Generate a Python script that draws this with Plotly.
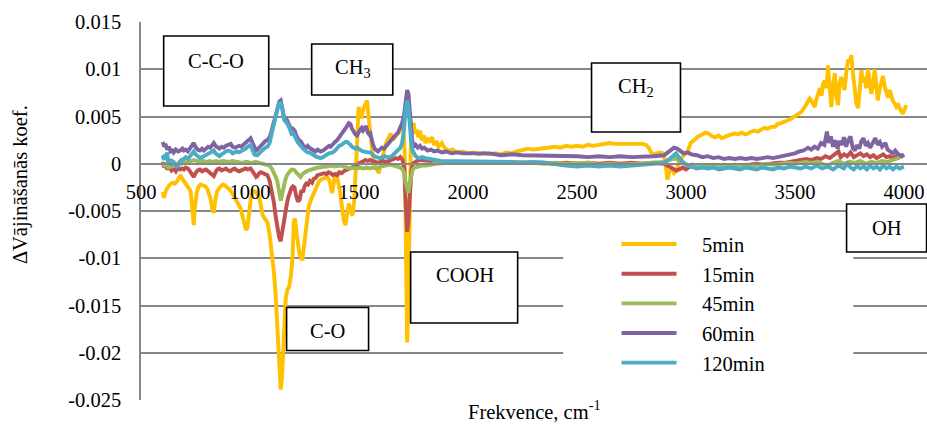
import plotly.graph_objects as go

# Difference absorbance spectra (values in units of 1e-4), wavenumber in cm-1
wn_5 = [600, 605, 615, 625, 632, 645, 655, 667, 675, 681, 690, 700, 712, 720, 728, 735, 742, 748, 755, 765,
        773, 785, 795, 805, 812, 820, 827, 834, 840, 848, 857, 865, 875, 885, 896, 905, 915, 926, 935, 945,
        957, 965, 973, 982, 988, 995, 1003, 1010, 1018, 1028, 1041, 1050, 1057, 1065, 1073, 1080, 1090, 1097, 1103, 1110,
        1118, 1126, 1134, 1141, 1147, 1153, 1158, 1164, 1172, 1180, 1188, 1195, 1201, 1206, 1212, 1220, 1228, 1240, 1248, 1255,
        1262, 1270, 1280, 1293, 1305, 1316, 1324, 1335, 1345, 1355, 1365, 1372, 1377, 1383, 1390, 1397, 1405, 1412, 1418, 1422,
        1430, 1438, 1446, 1453, 1462, 1470, 1478, 1486, 1492, 1498, 1505, 1512, 1520, 1528, 1537, 1543, 1550, 1558, 1567, 1575,
        1582, 1591, 1598, 1606, 1615, 1625, 1635, 1645, 1655, 1665, 1675, 1685, 1695, 1703, 1710, 1716, 1721, 1726, 1731, 1738,
        1745, 1751, 1758, 1765, 1772, 1780, 1788, 1797, 1805, 1815, 1825, 1835, 1845, 1855, 1865, 1880, 1895, 1910, 1930, 1950,
        1975, 2000, 2025, 2050, 2075, 2100, 2125, 2150, 2175, 2200, 2225, 2250, 2275, 2300, 2325, 2350, 2375, 2400, 2425, 2450,
        2475, 2500, 2525, 2550, 2575, 2600, 2625, 2650, 2675, 2700, 2725, 2750, 2775, 2800, 2815, 2830, 2840, 2852, 2865, 2880,
        2895, 2905, 2915, 2925, 2935, 2945, 2955, 2965, 2975, 2990, 3008, 3022, 3040, 3057, 3075, 3090, 3103, 3120, 3135, 3150,
        3164, 3180, 3195, 3210, 3225, 3240, 3255, 3270, 3286, 3300, 3315, 3330, 3347, 3360, 3375, 3390, 3408, 3420, 3435, 3450,
        3469, 3485, 3500, 3515, 3530, 3545, 3555, 3568, 3580, 3591, 3598, 3606, 3615, 3622, 3630, 3637, 3645, 3652, 3660, 3667,
        3675, 3683, 3690, 3698, 3705, 3713, 3720, 3728, 3735, 3744, 3752, 3759, 3766, 3774, 3782, 3790, 3798, 3805, 3812, 3820,
        3827, 3835, 3843, 3850, 3858, 3866, 3873, 3880, 3888, 3896, 3904, 3912, 3920, 3927, 3935, 3943, 3950, 3958, 3966, 3974,
        3981, 3989, 3996, 4003, 4011]
ab_5 = [-30, -36, -28, -24, -22, -20, -21, -18, -14, -12, -16, -19, -22, -26, -30, -45, -65, -45, -31, -24,
        -22, -23, -24, -27, -31, -38, -48, -52, -40, -30, -26, -24, -22, -23, -25, -27, -30, -34, -38, -42,
        -47, -55, -62, -70, -68, -50, -38, -32, -29, -30, -34, -44, -54, -57, -59, -62, -75, -88, -98, -115,
        -140, -175, -210, -239, -225, -193, -165, -142, -133, -130, -118, -100, -62, -58, -70, -85, -97, -102, -86, -70,
        -56, -45, -38, -31, -24, -19, -17, -16, -15, -14, -18, -25, -31, -22, -12, -11, -18, -28, -38, -44,
        -60, -65, -48, -42, -50, -55, -40, -10, 25, 60, 55, 48, 58, 62, 67, 52, 38, 18, 2, -2,
        -6, -10, -3, 6, 14, 22, 26, 32, 25, 28, 30, 34, 38, 42, 10, -90, -189, -150, -40, 20,
        40, 43, 32, 36, 28, 35, 25, 30, 22, 26, 24, 28, 20, 24, 18, 22, 16, 14, 15, 12,
        13, 11, 12, 10, 11, 10, 11, 10, 12, 11, 13, 15, 16, 15, 16, 16, 17, 18, 17, 19,
        18, 19, 18, 20, 19, 20, 21, 22, 21, 21, 22, 21, 22, 21, 20, 17, 12, 10, 11, 12,
        11, 3, -17, -8, -5, -10, -8, -2, 5, 9, 13, 22, 26, 29, 31, 33, 32, 29, 28, 30,
        27, 29, 30, 31, 32, 31, 33, 31, 32, 34, 35, 34, 36, 38, 37, 39, 39, 42, 43, 44,
        46, 48, 50, 52, 55, 60, 64, 69, 65, 60, 68, 74, 80, 72, 85, 88, 80, 104, 75, 60,
        82, 96, 72, 62, 85, 92, 84, 78, 95, 110, 108, 115, 96, 78, 64, 59, 80, 99, 86, 92,
        80, 100, 88, 74, 82, 100, 85, 67, 78, 86, 93, 82, 74, 70, 78, 70, 66, 64, 60, 62,
        58, 55, 53, 58, 62]

wn_15 = [600, 606, 612, 620, 630, 640, 650, 660, 670, 680, 690, 697, 705, 715, 725, 735, 742, 750, 760, 770,
         780, 788, 798, 808, 818, 827, 834, 842, 850, 860, 870, 880, 890, 900, 910, 920, 930, 940, 950, 960,
         970, 980, 990, 1003, 1012, 1020, 1028, 1034, 1042, 1050, 1060, 1070, 1080, 1090, 1096, 1103, 1109, 1118, 1126, 1134,
         1141, 1148, 1155, 1162, 1168, 1175, 1182, 1190, 1197, 1204, 1212, 1220, 1228, 1236, 1244, 1250, 1258, 1266, 1275, 1285,
         1292, 1301, 1310, 1320, 1330, 1340, 1350, 1360, 1370, 1380, 1390, 1400, 1410, 1420, 1430, 1440, 1446, 1455, 1465, 1476,
         1485, 1495, 1505, 1515, 1522, 1530, 1540, 1550, 1560, 1570, 1580, 1590, 1600, 1610, 1620, 1630, 1640, 1650, 1660, 1670,
         1680, 1690, 1700, 1708, 1714, 1721, 1727, 1733, 1740, 1747, 1755, 1765, 1780, 1800, 1820, 1850, 1900, 1950, 2000, 2050,
         2100, 2150, 2200, 2250, 2300, 2350, 2400, 2450, 2500, 2550, 2600, 2650, 2700, 2750, 2800, 2850, 2900, 2925, 2940, 2955,
         2970, 2985, 3000, 3015, 3030, 3050, 3075, 3100, 3125, 3150, 3175, 3200, 3225, 3250, 3275, 3300, 3325, 3350, 3375, 3400,
         3425, 3450, 3475, 3500, 3525, 3550, 3575, 3600, 3620, 3640, 3660, 3680, 3700, 3710, 3725, 3740, 3755, 3770, 3785, 3800,
         3815, 3830, 3845, 3860, 3875, 3890, 3905, 3920, 3935, 3950, 3965, 3980, 4000]
ab_15 = [2, -4, 0, -6, -3, -7, -5, -8, -4, -6, -5, -6, -4, -5, -8, -12, -14, -10, -7, -6,
         -8, -7, -6, -8, -10, -12, -13, -9, -6, -5, -7, -6, -5, -7, -8, -6, -5, -7, -8, -7,
         -6, -5, -6, -5, -8, -11, -14, -13, -10, -9, -10, -11, -12, -18, -24, -32, -40, -56, -68, -78,
         -82, -72, -58, -48, -44, -36, -30, -26, -24, -25, -34, -40, -38, -28, -30, -24, -21, -22, -18, -20,
         -16, -15, -12, -11, -10, -10, -11, -9, -10, -12, -11, -12, -9, -10, -8, -7, -7, -5, -4, -3,
         -2, 0, 1, 2, 3, 4, 3, 4, 3, 2, 2, 1, 2, 3, 2, 2, 3, 4, 5, 6,
         5, 7, 4, -6, -40, -72, -60, -25, -8, 0, 2, 3, 4, 3, 3, 2, 2, 1, 2, 1,
         2, 1, 1, 2, 1, 1, 0, 1, 0, 1, 0, 1, 0, 1, 0, 1, 0, -3, -5, -7,
         -6, -4, -6, -3, -1, -2, -1, -2, -1, -2, -1, -2, -1, -2, -1, -1, 0, -1, 0, 0,
         1, 1, 2, 3, 4, 5, 4, 6, 5, 8, 6, 9, 13, 7, 10, 8, 12, 7, 9, 11,
         8, 10, 7, 9, 6, 8, 10, 7, 8, 6, 8, 7, 9]

wn_45 = [600, 606, 612, 620, 628, 635, 645, 655, 665, 675, 685, 697, 710, 720, 735, 742, 755, 770, 785, 800,
         815, 830, 845, 860, 875, 890, 905, 920, 935, 950, 965, 980, 995, 1010, 1025, 1040, 1055, 1070, 1080, 1090,
         1100, 1110, 1118, 1125, 1133, 1141, 1148, 1155, 1162, 1170, 1178, 1187, 1195, 1205, 1215, 1224, 1232, 1240, 1250, 1260,
         1270, 1280, 1290, 1300, 1310, 1320, 1330, 1340, 1355, 1370, 1385, 1400, 1415, 1430, 1445, 1460, 1475, 1491, 1505, 1520,
         1535, 1550, 1565, 1583, 1600, 1615, 1630, 1644, 1660, 1675, 1690, 1700, 1708, 1714, 1721, 1727, 1733, 1740, 1747, 1755,
         1770, 1790, 1810, 1830, 1850, 1900, 1950, 2000, 2050, 2100, 2150, 2200, 2250, 2300, 2350, 2400, 2450, 2500, 2550, 2600,
         2650, 2700, 2750, 2800, 2850, 2900, 2925, 2950, 2970, 2990, 3010, 3030, 3050, 3075, 3100, 3125, 3150, 3175, 3200, 3225,
         3250, 3275, 3300, 3325, 3350, 3375, 3400, 3425, 3450, 3475, 3500, 3525, 3550, 3575, 3600, 3625, 3650, 3675, 3700, 3725,
         3750, 3775, 3800, 3825, 3850, 3875, 3900, 3925, 3950, 3975, 4000]
ab_45 = [0, -3, 1, -2, -5, -1, -3, -2, 0, 1, 0, 2, 1, 2, 3, 4, 3, 2, 3, 2,
         3, 2, 3, 2, 3, 2, 2, 3, 2, 2, 1, 2, 1, 1, 2, 1, 1, 0, -1, -2,
         -5, -9, -14, -18, -28, -39, -32, -22, -17, -12, -9, -7, -6, -7, -10, -13, -14, -11, -9, -8,
         -7, -6, -5, -5, -4, -4, -3, -3, -3, -2, -3, -2, -2, -3, -4, -5, -4, -5, -4, -5,
         -4, -5, -4, -5, -3, -2, -1, -1, -2, -3, -4, -6, -10, -20, -28, -31, -20, -10, -6, -4,
         -3, -2, -2, -1, 0, 1, 2, 1, 2, 1, 1, 2, 1, 1, 0, 1, 0, 0, 1, -1,
         0, -1, 0, 0, 1, 2, 4, 6, 3, 0, -2, -3, -2, -3, -2, -3, -2, -3, -2, -1,
         -2, -1, -2, -1, -1, 0, -1, 0, 0, 1, 0, 1, 2, 1, 2, 0, -2, 1, 3, 0,
         2, 1, 3, 0, 2, 1, 3, 2, 4, 6, 10]

wn_60 = [600, 606, 612, 620, 628, 636, 645, 650, 660, 670, 680, 690, 697, 705, 715, 725, 735, 742, 750, 760,
         770, 780, 788, 798, 808, 818, 827, 834, 842, 850, 860, 870, 880, 890, 900, 912, 920, 930, 940, 950,
         960, 970, 980, 990, 1003, 1012, 1020, 1028, 1034, 1042, 1050, 1060, 1070, 1080, 1090, 1098, 1105, 1112, 1120, 1128,
         1135, 1141, 1147, 1152, 1158, 1164, 1170, 1177, 1184, 1190, 1197, 1205, 1212, 1218, 1224, 1232, 1240, 1248, 1256, 1264,
         1272, 1280, 1290, 1300, 1310, 1324, 1335, 1345, 1355, 1363, 1370, 1380, 1390, 1400, 1410, 1420, 1430, 1438, 1446, 1453,
         1461, 1468, 1476, 1484, 1491, 1498, 1505, 1512, 1518, 1525, 1532, 1540, 1547, 1552, 1558, 1565, 1572, 1580, 1587, 1595,
         1605, 1615, 1622, 1629, 1638, 1646, 1655, 1663, 1670, 1677, 1684, 1690, 1698, 1706, 1713, 1721, 1727, 1733, 1738, 1744,
         1751, 1760, 1770, 1780, 1790, 1800, 1815, 1830, 1845, 1860, 1880, 1900, 1925, 1950, 1975, 2000, 2050, 2100, 2150, 2200,
         2250, 2300, 2350, 2400, 2450, 2500, 2550, 2600, 2650, 2700, 2750, 2800, 2850, 2900, 2925, 2945, 2960, 2975, 2990, 3008,
         3025, 3050, 3075, 3100, 3125, 3150, 3175, 3200, 3225, 3250, 3275, 3300, 3325, 3350, 3375, 3400, 3425, 3450, 3475, 3500,
         3520, 3540, 3560, 3575, 3590, 3605, 3620, 3635, 3647, 3655, 3665, 3675, 3685, 3695, 3705, 3715, 3725, 3735, 3745, 3755,
         3765, 3775, 3785, 3795, 3805, 3815, 3825, 3835, 3845, 3855, 3869, 3880, 3890, 3900, 3915, 3925, 3935, 3950, 3960, 3975,
         3990, 4000]
ab_60 = [23, 18, 21, 15, 18, 13, 14, 12, 15, 13, 14, 16, 14, 15, 13, 17, 20, 22, 18, 15,
         14, 16, 14, 16, 18, 17, 20, 22, 19, 17, 16, 18, 17, 19, 20, 21, 18, 17, 18, 19,
         18, 20, 22, 25, 27, 22, 17, 14, 15, 17, 19, 22, 24, 25, 28, 34, 40, 48, 56, 62,
         66, 67, 62, 54, 47, 45, 46, 43, 39, 36, 37, 35, 30, 27, 25, 24, 21, 18, 17, 19,
         17, 16, 14, 13, 15, 13, 14, 16, 17, 19, 18, 21, 23, 25, 28, 31, 34, 36, 40, 43,
         42, 37, 33, 31, 30, 34, 36, 38, 35, 37, 40, 33, 31, 32, 25, 20, 16, 14, 13, 15,
         17, 16, 18, 19, 22, 24, 26, 29, 31, 32, 36, 38, 43, 50, 65, 78, 74, 57, 42, 25,
         18, 20, 17, 19, 16, 17, 14, 15, 13, 14, 12, 13, 11, 12, 11, 11, 10, 11, 9, 10,
         9, 9, 8, 9, 8, 8, 7, 8, 7, 8, 7, 7, 8, 9, 13, 17, 16, 13, 11, 12,
         10, 9, 7, 8, 6, 7, 5, 6, 5, 6, 5, 6, 5, 6, 7, 6, 7, 8, 9, 11,
         13, 14, 17, 15, 18, 16, 22, 20, 34, 22, 29, 18, 25, 16, 24, 20, 28, 18, 25, 29,
         17, 14, 20, 16, 24, 27, 19, 22, 17, 21, 27, 20, 23, 18, 22, 15, 13, 11, 14, 10,
         8, 10]

wn_120 = [600, 605, 610, 615, 620, 625, 630, 636, 642, 650, 658, 667, 675, 685, 697, 705, 715, 725, 735, 742,
          750, 760, 770, 780, 790, 800, 810, 820, 827, 834, 842, 850, 860, 870, 880, 890, 900, 912, 920, 930,
          940, 950, 960, 970, 980, 990, 1003, 1012, 1020, 1028, 1034, 1042, 1050, 1060, 1070, 1080, 1090, 1098, 1105, 1112,
          1120, 1128, 1135, 1141, 1147, 1152, 1158, 1164, 1170, 1177, 1184, 1190, 1197, 1205, 1212, 1218, 1224, 1232, 1240, 1248,
          1256, 1264, 1272, 1278, 1290, 1300, 1310, 1324, 1335, 1345, 1355, 1363, 1370, 1380, 1390, 1400, 1410, 1420, 1430, 1438,
          1446, 1453, 1461, 1468, 1476, 1484, 1491, 1500, 1510, 1520, 1530, 1540, 1552, 1560, 1570, 1580, 1590, 1598, 1608, 1618,
          1628, 1638, 1644, 1655, 1665, 1675, 1684, 1690, 1698, 1706, 1713, 1721, 1727, 1733, 1740, 1746, 1751, 1760, 1775, 1790,
          1805, 1820, 1835, 1850, 1875, 1900, 1950, 2000, 2050, 2100, 2150, 2200, 2250, 2300, 2350, 2400, 2450, 2500, 2550, 2600,
          2650, 2700, 2750, 2800, 2850, 2900, 2925, 2945, 2955, 2970, 2990, 3010, 3030, 3050, 3075, 3100, 3125, 3150, 3175, 3200,
          3225, 3250, 3275, 3300, 3325, 3350, 3375, 3400, 3425, 3450, 3475, 3500, 3525, 3550, 3575, 3600, 3625, 3650, 3675, 3700,
          3725, 3740, 3755, 3770, 3785, 3800, 3815, 3830, 3845, 3860, 3875, 3890, 3905, 3920, 3935, 3950, 3965, 3980, 4000]
ab_120 = [9, 4, 10, 6, 12, 0, 5, -2, 3, 2, -1, -4, 1, 4, 5, 7, 5, 8, 11, 13,
          10, 8, 6, 7, 8, 9, 10, 12, 13, 14, 11, 9, 8, 10, 12, 13, 14, 13, 11, 12,
          13, 12, 13, 14, 16, 18, 20, 14, 10, 9, 9, 11, 13, 15, 17, 18, 22, 30, 38, 46,
          54, 60, 64, 64, 59, 52, 46, 45, 43, 40, 36, 32, 33, 30, 26, 23, 21, 20, 17, 15,
          13, 12, 12, 11, 9, 8, 7, 6, 7, 8, 10, 11, 11, 12, 14, 17, 19, 20, 22, 23,
          23, 22, 20, 18, 17, 16, 17, 15, 14, 13, 12, 12, 12, 10, 8, 7, 6, 6, 7, 8,
          7, 7, 7, 9, 11, 13, 15, 17, 22, 35, 55, 67, 60, 40, 22, 14, 11, 8, 6, 7,
          6, 5, 5, 4, 3, 3, 2, 2, 3, 2, 2, 2, 1, 2, 1, -1, -2, -3, -2, -3,
          -2, -3, -2, -2, -1, 1, 5, 10, 11, 6, 1, -2, -4, -5, -4, -5, -4, -6, -5, -4,
          -5, -6, -4, -5, -6, -4, -5, -6, -4, -5, -3, -4, -5, -3, -5, -2, -5, -3, -6, -2,
          -5, 0, -4, -6, -2, -5, -3, -6, -2, -5, -3, -6, -2, -5, -3, -6, -3, -5, -3]

series_names = ["5min", "15min", "45min", "60min", "120min"]
series_colors = ["#FFC000", "#C0504D", "#9BBB59", "#8064A2", "#4BACC6"]
series_x = [wn_5, wn_15, wn_45, wn_60, wn_120]
series_y = [ab_5, ab_15, ab_45, ab_60, ab_120]
UNIT = 1e-4

y_ticks = [-0.025, -0.02, -0.015, -0.01, -0.005, 0, 0.005, 0.01, 0.015]
y_ticktext = ["-0.025", "-0.02", "-0.015", "-0.01", "-0.005", "0", "0.005", "0.01", "0.015"]
x_ticks = [500, 1000, 1500, 2000, 2500, 3000, 3500, 4000]

# Band labels: (text, box x0, box x1, box y0, box y1, text x, text y)
bands = [
    ("C-C-O", 604, 1086, 0.00611, 0.01352, 843, 0.01087),
    ("CH<sub>3</sub>", 1283, 1655, 0.00727, 0.01267, 1471, 0.01003),
    ("CH<sub>2</sub>", 2567, 2975, 0.00336, 0.01066, 2769, 0.00802),
    ("COOH", 1737, 2228, -0.01685, -0.00934, 1985, -0.01177),
    ("C-O", 1168, 1544, -0.01976, -0.01521, 1357, -0.01770),
    ("OH", 3737, 4104, -0.00934, -0.00426, 3921, -0.00680),
]

FONT = "Liberation Serif"
FS = 20.5
GRID = "#878787"
PAD = "\u00a0\u00a0\u00a0\u00a0"  # spacing between legend line sample and label

fig = go.Figure()
for name, color, xs, ys in zip(series_names, series_colors, series_x, series_y):
    fig.add_trace(go.Scatter(
        x=xs, y=[v * UNIT for v in ys], mode="lines", name=PAD + name,
        line=dict(color=color, width=3.9), legendgroup=name,
    ))

shapes = []
annotations = []
for text, x0, x1, y0, y1, tx, ty in bands:
    shapes.append(dict(type="rect", xref="x", yref="y", x0=x0, x1=x1, y0=y0, y1=y1,
                       line=dict(color="black", width=1.6), fillcolor="white", layer="above"))
    annotations.append(dict(text=text, x=tx, y=ty, xref="x", yref="y", showarrow=False,
                            xanchor="center", yanchor="middle",
                            font=dict(family=FONT, size=FS, color="black")))

# white backdrop behind the legend
shapes.append(dict(type="rect", xref="x", yref="y", x0=2437, x1=3768, y0=-0.0249, y1=-0.0055,
                   line=dict(width=0), fillcolor="white", layer="between"))

annotations.append(dict(text="ΔVājināšanās koef.", x=-0.154, y=0.571, xref="paper", yref="paper",
                        showarrow=False, textangle=-90, xanchor="center", yanchor="middle",
                        font=dict(family=FONT, size=FS, color="black")))
annotations.append(dict(text="Frekvence, cm<sup>-1</sup>", x=0.5, y=-0.066, xref="paper", yref="paper",
                        showarrow=False, xanchor="center", yanchor="bottom",
                        font=dict(family=FONT, size=FS, color="black")))

fig.update_layout(
    width=927, height=425,
    margin=dict(l=141, r=0, t=22, b=25),
    plot_bgcolor="white", paper_bgcolor="white",
    font=dict(family=FONT, size=FS, color="black"),
    shapes=shapes, annotations=annotations,
    legend=dict(x=0.605, y=0.465, xanchor="left", yanchor="top",
                bgcolor="rgba(255,255,255,0)", borderwidth=0,
                font=dict(family=FONT, size=FS, color="black"),
                itemwidth=55, tracegroupgap=0),
    xaxis=dict(range=[500, 4106], tickvals=x_ticks, showgrid=False, zeroline=False,
               showline=True, linecolor=GRID, linewidth=1.5,
               anchor="free", position=0.625, ticks="", ticklabelstandoff=10,
               tickfont=dict(family=FONT, size=FS, color="black")),
    yaxis=dict(range=[-0.025, 0.015], tickvals=y_ticks, ticktext=y_ticktext,
               showgrid=True, gridcolor=GRID, gridwidth=1.5, zeroline=False,
               showline=True, linecolor=GRID, linewidth=1.5, ticks="",
               ticklabelstandoff=14, domain=[0, 1],
               tickfont=dict(family=FONT, size=FS, color="black")),
)

fig.write_html("out.html")
